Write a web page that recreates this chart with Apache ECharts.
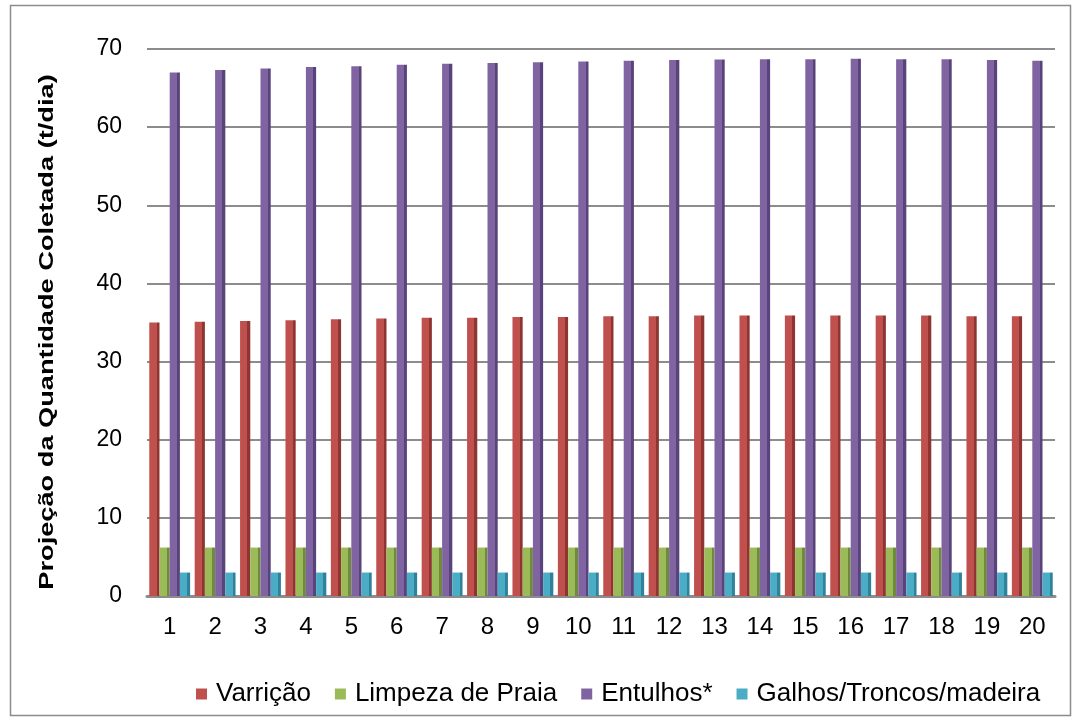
<!DOCTYPE html>
<html><head><meta charset="utf-8">
<script src="https://cdn.jsdelivr.net/npm/echarts@6/dist/echarts.min.js"></script>
<style>html,body{margin:0;padding:0;background:#fff}#c{width:1078px;height:720px}</style>
</head><body><div id="c"></div>
<script>
var categories = ['1','2','3','4','5','6','7','8','9','10','11','12','13','14','15','16','17','18','19','20'];
var varricao = [35.0,35.1,35.2,35.3,35.4,35.5,35.6,35.6,35.7,35.7,35.8,35.8,35.9,35.9,35.9,35.9,35.9,35.9,35.8,35.8];
var limpeza = [6.2,6.2,6.2,6.2,6.2,6.2,6.2,6.2,6.2,6.2,6.2,6.2,6.2,6.2,6.2,6.2,6.2,6.2,6.2,6.2];
var entulhos = [67.0,67.3,67.5,67.7,67.8,68.0,68.1,68.2,68.3,68.4,68.5,68.6,68.65,68.7,68.7,68.75,68.7,68.7,68.6,68.5];
var galhos = [3.0,3.0,3.0,3.0,3.0,3.0,3.0,3.0,3.0,3.0,3.0,3.0,3.0,3.0,3.0,3.0,3.0,3.0,3.0,3.0];
var seriesNames = ['Varrição','Limpeza de Praia','Entulhos*','Galhos/Troncos/madeira'];
var yAxisTitle = 'Projeção da Quantidade Coletada (t/dia)';

var chart = echarts.init(document.getElementById('c'));
function grad(main, dark){
  return new echarts.graphic.LinearGradient(0,0,1,0,[
    {offset:0,color:main},{offset:0.72,color:main},{offset:0.72,color:dark},{offset:1,color:dark}]);
}
var cols = [['#c0504d','#8e3431'],['#9bbb59','#6f8a3c'],['#8064a2','#58437a'],['#4bacc6','#2f8299']];
var legendCols = ['#c0504d','#9bbb59','#8064a2','#4bacc6'];
var datas = [varricao, limpeza, entulhos, galhos];
var series = datas.map(function(d,i){
  return {name:seriesNames[i], type:'bar', data:d, barGap:'0%', barCategoryGap:'10%',
    itemStyle:{color:grad(cols[i][0],cols[i][1])}};
});
chart.setOption({
  animation:false,
  color: legendCols,
  graphic:[
    {type:'rect',shape:{x:10.5,y:5.5,width:1060,height:710},style:{fill:'none',stroke:'#8c8c8c',lineWidth:1.5}},
    {type:'text',x:47,y:332,rotation:Math.PI/2,scaleX:1.36,
      style:{text:yAxisTitle,font:'bold 20px "Liberation Sans"',fill:'#000',align:'center',verticalAlign:'middle'}}
  ],
  grid:{left:147,right:23,top:49,bottom:124},
  legend:{bottom:8,left:191,itemWidth:11,itemHeight:11,itemGap:24,icon:'rect',
    textStyle:{fontFamily:'Liberation Sans',fontSize:26,color:'#000',padding:[0,0,0,4]},
    data:seriesNames.map(function(n,i){return {name:n,itemStyle:{color:legendCols[i]}};})},
  xAxis:{type:'category',data:categories,
    axisLine:{lineStyle:{color:'#8c8c8c',width:3}},axisTick:{show:false},
    axisLabel:{fontFamily:'Liberation Sans',fontSize:24,color:'#000',margin:19}},
  yAxis:{type:'value',min:0,max:70,interval:10,
    axisLine:{show:false},axisTick:{show:false},
    splitLine:{lineStyle:{color:'#8c8c8c',width:2}},
    axisLabel:{fontFamily:'Liberation Sans',fontSize:23,color:'#000',margin:25,padding:[5,0,0,0]}},
  series:series
});
</script></body></html>
